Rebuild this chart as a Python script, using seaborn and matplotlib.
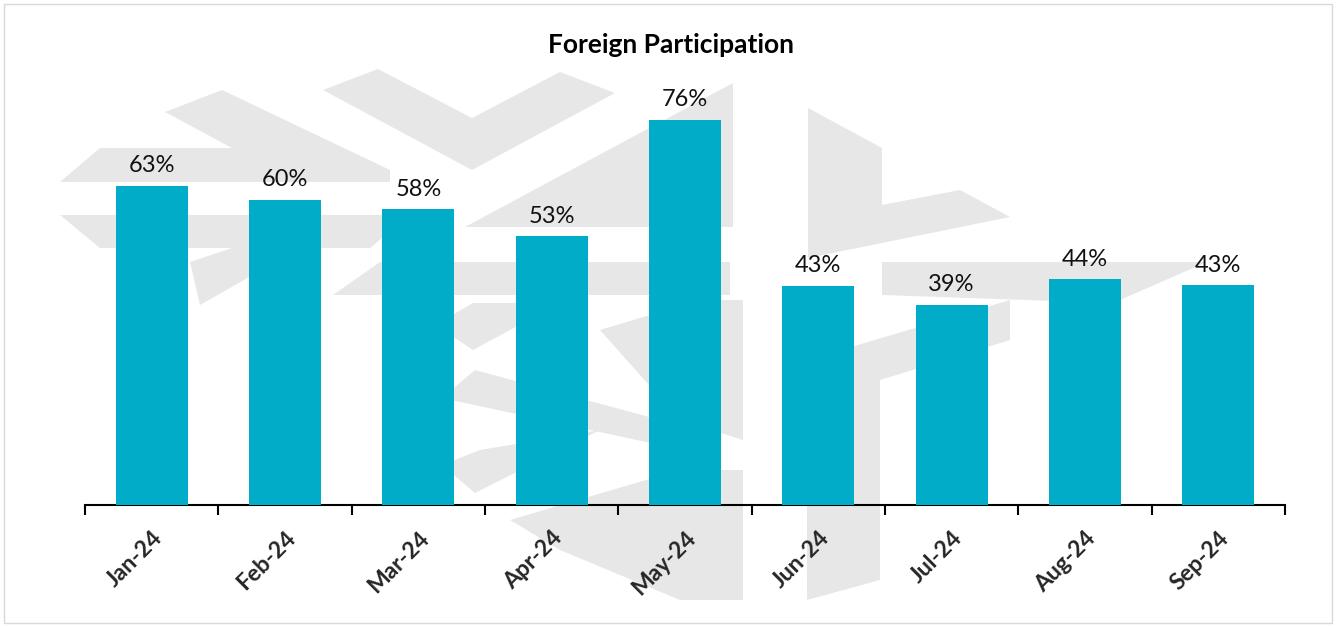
import numpy as np
import pandas as pd
import seaborn as sns
import matplotlib.pyplot as plt
from matplotlib.patches import Polygon, Rectangle
from matplotlib.ticker import FixedLocator

# data
months = ['Jan-24', 'Feb-24', 'Mar-24', 'Apr-24', 'May-24', 'Jun-24', 'Jul-24', 'Aug-24', 'Sep-24']
participation = [63.0, 60.2, 58.3, 53.0, 76.0, 43.2, 39.4, 44.5, 43.3]

df = pd.DataFrame({'Month': months, 'Participation': participation})

sns.set_style('white')
plt.rcParams['font.family'] = ['Lato', 'DejaVu Sans']

W, H = 1336, 627
fig = plt.figure(figsize=(W / 100, H / 100), dpi=100)

# light grey watermark logo behind the chart (pixel coords, y from top)
watermark = [
    [(60, 182), (100, 148), (232, 148), (165, 112), (222, 90), (390, 170), (390, 182)],
    [(60, 215), (410, 215), (370, 248), (100, 248)],
    [(190, 262), (232, 248), (300, 248), (200, 305)],
    [(323, 90), (378, 69), (472, 118), (560, 72), (615, 93), (472, 170)],
    [(465, 227), (733, 83), (733, 227)],
    [(333, 295), (380, 262), (730, 262), (730, 295)],
    [(808, 108), (882, 148), (882, 205), (960, 190), (1010, 217), (808, 258)],
    [(882, 262), (1207, 262), (1113, 303), (882, 295)],
    [(435, 325), (473, 303), (560, 303), (473, 350)],
    [(442, 398), (475, 370), (690, 428), (660, 445)],
    [(442, 465), (480, 450), (600, 430), (475, 493)],
    [(510, 520), (680, 470), (743, 470), (743, 600), (680, 600), (560, 550)],
    [(600, 330), (700, 300), (743, 300), (743, 440), (680, 420)],
    [(807, 360), (1010, 300), (1010, 340), (880, 380), (880, 580), (807, 600)],
]
for poly in watermark:
    pts = [(x / W, 1 - y / H) for x, y in poly]
    fig.patches.append(Polygon(pts, closed=True, facecolor='#E7E7E7', edgecolor='none',
                               transform=fig.transFigure, zorder=-2))

# thin frame round the figure
fig.patches.append(Rectangle((4 / W, 4 / H), 1 - 8 / W, 1 - 8 / H, fill=False,
                             edgecolor='#D9D9D9', linewidth=1, transform=fig.transFigure, zorder=-1))

ax = fig.add_axes([85 / W, 1 - 505 / H, 1200 / W, (505 - 74) / H])
ax.set_zorder(1)
ax.patch.set_alpha(0)

sns.barplot(data=df, x='Month', y='Participation', color='#00ACC8', saturation=1,
            width=0.54, linewidth=0, ax=ax, zorder=3)

ax.bar_label(ax.containers[0], labels=[f"{v:.0f}%" for v in participation],
             padding=7, fontsize=17, color='#111111')

ax.set_xlim(-0.5, len(months) - 0.5)
ax.set_ylim(0, 85)
ax.set_xlabel('')
ax.set_ylabel('')
ax.set_yticks([])

for side in ['top', 'right', 'left']:
    ax.spines[side].set_visible(False)
ax.spines['bottom'].set_color('black')
ax.spines['bottom'].set_linewidth(1.5)

# tick marks sit between categories
ax.xaxis.set_minor_locator(FixedLocator(np.arange(-0.5, len(months), 1.0)))
ax.tick_params(axis='x', which='major', bottom=False, length=0, pad=16)
ax.tick_params(axis='x', which='minor', bottom=True, length=7, width=1.5,
               color='black', direction='out')
for lbl in ax.get_xticklabels():
    lbl.set_rotation(45)
    lbl.set_ha('right')
    lbl.set_rotation_mode('anchor')
    lbl.set_fontweight('bold')
    lbl.set_fontsize(16.5)

fig.text(671 / W, 1 - 45 / H, 'Foreign Participation', ha='center', va='center',
         fontsize=19, fontweight='bold', color='black')

fig.savefig('out.png', dpi=100)
